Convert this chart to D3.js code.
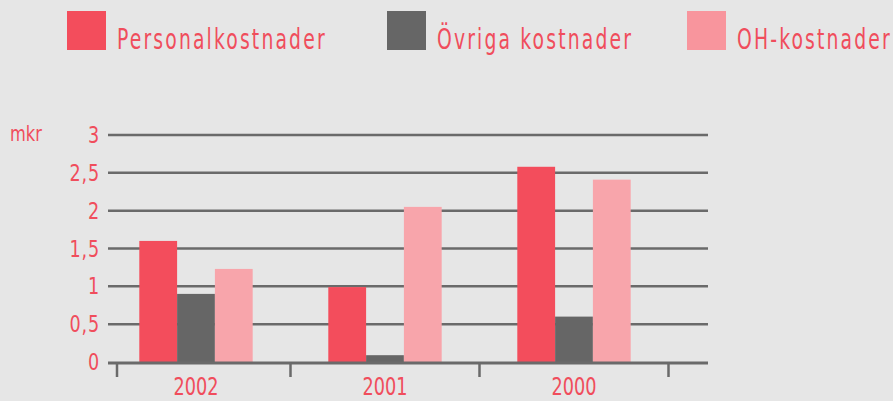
<!DOCTYPE html>
<html>
<head>
<meta charset="utf-8">
<script src="https://cdn.jsdelivr.net/npm/d3@7"></script>
<style>
  html, body { margin: 0; padding: 0; background: #e6e6e6; }
  svg { display: block; }
  text { font-family: "DejaVu Sans Condensed", "DejaVu Sans", sans-serif; font-stretch: condensed; fill: #f04d5c; }
</style>
</head>
<body>
<div id="chart"></div>
<script>
const years = ['2002', '2001', '2000'];
const seriesNames = ['Personalkostnader', 'Övriga kostnader', 'OH-kostnader'];
const personal = [1.6, 0.99, 2.58];
const ovriga = [0.9, 0.09, 0.6];
const oh = [1.23, 2.05, 2.41];
const yTicks = [0, 0.5, 1, 1.5, 2, 2.5, 3];

const barColors = ['#f34d5c', '#666666', '#f8a5ab'];
const legendColors = ['#f34d5c', '#666666', '#f8959d'];

const width = 893, height = 401;
const grid = { left: 108, right: 708, top: 135, bottom: 362 };

const svg = d3.select('#chart').append('svg')
  .attr('width', width)
  .attr('height', height);

svg.append('rect').attr('width', width).attr('height', height).attr('fill', '#e6e6e6');

// narrow text: the original uses a condensed face, squeeze horizontally
function label(parent, tx, ty, str, size, anchor, sx, ls) {
  const g = parent.append('g').attr('transform', `translate(${tx},${ty}) scale(${sx},1)`);
  g.append('text')
    .attr('text-anchor', anchor)
    .attr('font-size', size)
    .attr('letter-spacing', ls || 0)
    .text(str);
  return g;
}

// scales
const x = d3.scaleBand().domain(years).range([101.5, 668.5]).padding(0);
const xs = d3.scaleBand().domain(seriesNames).range([0, x.bandwidth()]).paddingInner(0).paddingOuter(1);
const y = d3.scaleLinear().domain([0, 3]).range([grid.bottom, grid.top]);

// grid lines
svg.append('g').selectAll('line')
  .data(yTicks.filter(d => d > 0))
  .enter().append('line')
  .attr('x1', grid.left).attr('x2', grid.right)
  .attr('y1', d => y(d)).attr('y2', d => y(d))
  .attr('stroke', '#6a6a6a')
  .attr('stroke-width', 2.5);

// y labels
const yLab = svg.append('g');
yTicks.forEach(d => {
  label(yLab, 100, y(d) + 8, String(d).replace('.', ','), 23, 'end', 0.85, 1);
});
label(svg, 10, 141, 'mkr', 22, 'start', 0.82, 0);

// bars
const data = years.map((yr, i) => ({ year: yr, values: [personal[i], ovriga[i], oh[i]] }));
const groups = svg.append('g').selectAll('g')
  .data(data)
  .enter().append('g')
  .attr('transform', d => `translate(${x(d.year)},0)`);

groups.selectAll('rect')
  .data(d => d.values.map((v, j) => ({ name: seriesNames[j], value: v, j })))
  .enter().append('rect')
  .attr('x', d => xs(d.name))
  .attr('width', xs.bandwidth())
  .attr('y', d => y(d.value))
  .attr('height', d => y(0) - y(d.value))
  .attr('fill', d => barColors[d.j]);

// baseline + ticks
svg.append('line')
  .attr('x1', grid.left).attr('x2', grid.right)
  .attr('y1', y(0) + 1).attr('y2', y(0) + 1)
  .attr('stroke', '#6a6a6a').attr('stroke-width', 3);

const tickXs = [grid.left + 9].concat(years.map(d => x(d) + x.step()));
svg.append('g').selectAll('line')
  .data(tickXs)
  .enter().append('line')
  .attr('x1', d => d).attr('x2', d => d)
  .attr('y1', y(0)).attr('y2', y(0) + 15)
  .attr('stroke', '#6a6a6a').attr('stroke-width', 2.5);

const xLab = svg.append('g');
years.forEach(d => {
  label(xLab, x(d) + x.bandwidth() / 2, 395, d, 24, 'middle', 0.82, 0);
});

// legend
const legendX = [67, 387, 687];
seriesNames.forEach((name, i) => {
  const g = svg.append('g').attr('transform', `translate(${legendX[i]},11)`);
  g.append('rect')
    .attr('width', 39).attr('height', 39)
    .attr('fill', legendColors[i]);
  label(g, 50, 38, name, 29, 'start', 0.72, 3);
});
</script>
</body>
</html>
